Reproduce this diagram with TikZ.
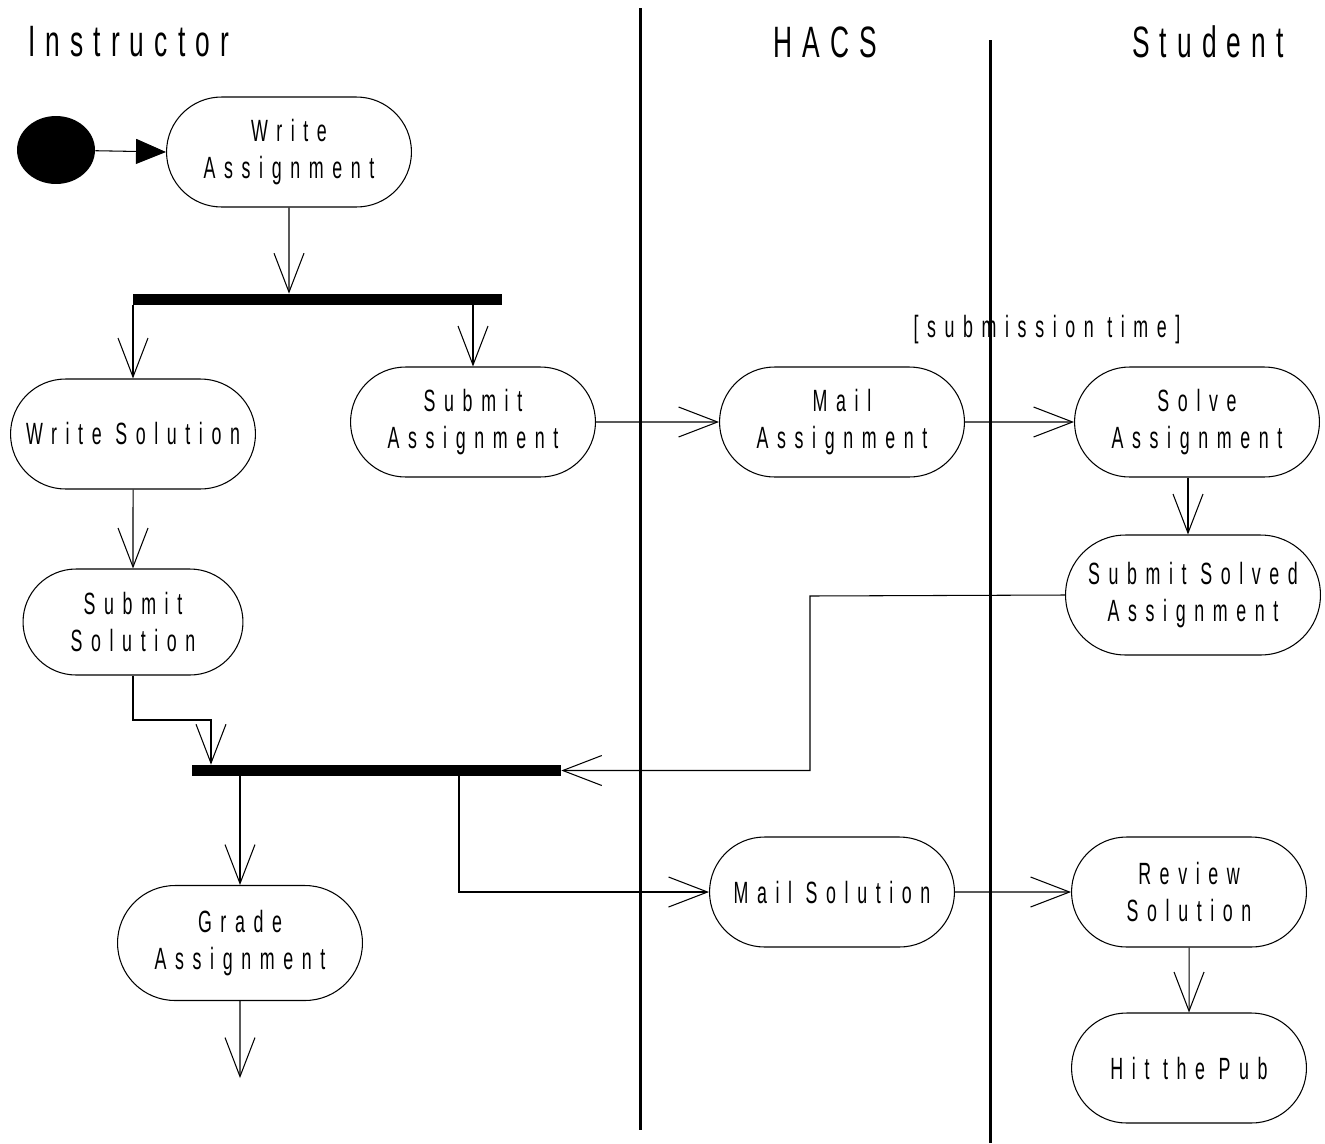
\documentclass[tikz,border=0pt]{standalone}
\usepackage{fontspec}
\setmainfont{Liberation Sans}[FakeStretch=0.58,LetterSpace=28]
\newfontfamily\lanefont{Liberation Sans}[FakeStretch=0.6,LetterSpace=23]
\usetikzlibrary{shapes.geometric,shapes.misc,arrows.meta}

\tikzstyle{activity} = [rounded rectangle, draw=black, line width=0.6pt, minimum width=5.04cm, minimum height=2.2cm, align=center, font=\fontsize{17.5}{21}\selectfont, inner sep=2pt]
\tikzstyle{bar} = [rectangle, fill=black, minimum height=0.22cm, inner sep=0pt]
\tikzstyle{arrow} = [line width=0.6pt, -{Straight Barb[length=0.78cm,width=0.6cm]}]
\tikzstyle{lane} = [line width=1.7pt]
\tikzstyle{lanetitle} = [font=\lanefont\fontsize{25}{30}\selectfont]

\begin{document}
\begin{tikzpicture}[x=0.02cm,y=-0.02cm]
			\useasboundingbox (0,0) rectangle (1325,1143);
			% swimlanes
			\draw [lane] (640,8) -- (640,1130);
			\draw [lane] (990,40) -- (990,1143);
			\node (instr) [lanetitle, anchor=west] at (22,42) {Instructor};
			\node (hacs) [lanetitle] at (825,42) {HACS};
			\node (stud) [lanetitle] at (1208,42) {Student};

			\node (start) [ellipse, fill=black, minimum width=1.56cm, minimum height=1.36cm] at (56,150) {};
			\node (wasg) [activity] at (289,152) {Write\\Assignment};
			\node (fork1) [bar, minimum width=7.38cm] at (317.5,299.5) {};
			\node (wsol) [activity] at (133,434) {Write Solution};
			\node (sasg) [activity] at (473,422) {Submit\\Assignment};
			\node (masg) [activity] at (842,422) {Mail\\Assignment};
			\node (solve) [activity] at (1197,422) {Solve\\Assignment};
			\node (subtime) [font=\fontsize{17.5}{21}\selectfont] at (1047,330) {[submission time]};
			\node (ssolved) [activity, minimum width=5.24cm, minimum height=2.4cm] at (1193,595) {Submit Solved\\Assignment};
			\node (ssol) [activity, minimum width=4.54cm, minimum height=2.12cm] at (133,622) {Submit\\Solution};
			\node (fork2) [bar, minimum width=7.38cm] at (376.5,770.5) {};
			\node (grade) [activity, minimum height=2.3cm] at (240,943) {Grade\\Assignment};
			\node (msol) [activity] at (832,892) {Mail Solution};
			\node (review) [activity, minimum width=4.84cm] at (1189,892) {Review\\Solution};
			\node (pub) [activity, minimum width=4.84cm] at (1189,1068) {Hit the Pub};
			\coordinate (end) at (240,1078);
			\coordinate (j1) at (211,720);
			\coordinate (j2) at (810,596);
			\coordinate (j3) at (459,0);

			\draw [line width=0.6pt, -{Triangle[length=0.6cm,width=0.5cm]}] (start) -- (wasg.west);
			\draw [arrow] (wasg) -- (fork1.north -| wasg);
			\draw [arrow] (fork1.south -| wsol) -- (wsol.north);
			\draw [arrow] (fork1.south -| sasg) -- (sasg.north);
			\draw [arrow] (sasg) -- (masg);
			\draw [arrow] (masg) -- (solve);
			\draw [arrow] (solve.south -| 1188,0) -- (ssolved.north -| 1188,0);
			\draw [arrow] (wsol) -- (ssol);
			\draw [arrow] (ssol.south) |- (j1) -- (j1 |- fork2.north);
			\draw [arrow] (ssolved.west) -- (j2) |- (fork2.east);
			\draw [arrow] (fork2.south -| grade) -- (grade.north);
			\draw [arrow] (fork2.south -| j3) |- (msol.west);
			\draw [arrow] (grade) -- (end);
			\draw [arrow] (msol) -- (review);
			\draw [arrow] (review) -- (pub);
\end{tikzpicture}
\end{document}
